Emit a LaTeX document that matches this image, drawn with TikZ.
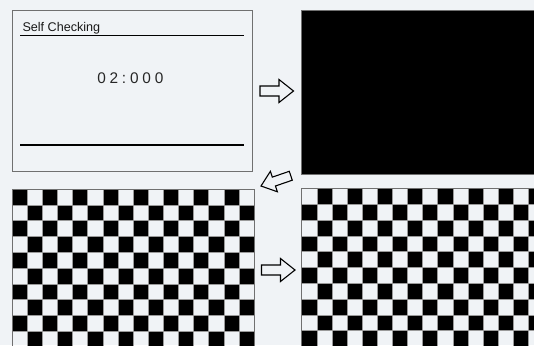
\documentclass[tikz,border=0pt]{standalone}
\usepackage{fontspec}
\setmainfont{Liberation Sans}
\definecolor{bg}{HTML}{F0F3F6}
\definecolor{framegray}{HTML}{707070}
\definecolor{gridgray}{HTML}{9A9A9A}
\tikzset{
  blockarrow/.style={draw=black, fill=bg, line width=1.1pt, line join=miter},
  panel/.style={draw=framegray, line width=0.9pt},
  blk/.pic={\draw[blockarrow] (-33.5,-5) -- (-14.5,-5) -- (-14.5,-11.5) -- (0,0) -- (-14.5,11.5) -- (-14.5,5) -- (-33.5,5) -- cycle;}
}
\begin{document}
\begin{tikzpicture}[x=1pt,y=-1pt]
\useasboundingbox (0,0) rectangle (534,345);
\fill[bg] (0,0) rectangle (534,345);
% top-left panel
\draw[panel, fill=bg] (12,10) rectangle (252,171);
\node[anchor=base west, font=\fontsize{12.6}{14}\selectfont, inner sep=0, text=black!90] (title) at (22.3,31) {Self Checking};
\draw[line width=1.6pt] (20,35.5) -- (244,35.5);
\node[font=\fontsize{15.4}{17}\selectfont, text=black!85, inner sep=0] (timer) at (130.3,77.8) {0\kern3.8pt2\kern3.8pt:\kern3.8pt0\kern3.8pt0\kern3.8pt0};
\draw[line width=1.6pt] (20,145) -- (244,145);
% black panel
\draw[panel, fill=black] (301.7,10.5) rectangle (540,174);
% left checkerboard
\begin{scope}
\clip (12,189) rectangle (254,350);
\foreach \i in {0,...,15} {
  \foreach \j in {0,...,9} {
    \ifodd\numexpr\i+\j\relax\else
      \fill[black] ({12+\i*15.125},{189+\j*15.8}) rectangle +(15.125,15.8);
    \fi
  }
}
\foreach \i in {1,...,15} \draw[gridgray, line width=0.4pt] ({12+\i*15.125},189) -- ({12+\i*15.125},350);
\foreach \j in {1,...,10} \draw[gridgray, line width=0.4pt] (12,{189+\j*15.8}) -- (254,{189+\j*15.8});
\end{scope}
\draw[panel] (12,350) -- (12,189) -- (254,189) -- (254,350);
% right checkerboard
\begin{scope}
\clip (301.7,188.3) rectangle (540,350);
\foreach \i in {0,...,15} {
  \foreach \j in {0,...,9} {
    \ifodd\numexpr\i+\j\relax
      \fill[black] ({301.7+\i*15.1},{188.3+\j*15.8}) rectangle +(15.1,15.8);
    \fi
  }
}
\foreach \i in {1,...,15} \draw[gridgray, line width=0.4pt] ({301.7+\i*15.1},188.3) -- ({301.7+\i*15.1},350);
\foreach \j in {1,...,10} \draw[gridgray, line width=0.4pt] (301.7,{188.3+\j*15.8}) -- (540,{188.3+\j*15.8});
\end{scope}
\draw[panel] (301.7,350) -- (301.7,188.3) -- (540,188.3);
% arrows
\pic at (293.5,91) {blk};
\pic[rotate=199, scale=0.94] at (261,186) {blk};
\pic at (295,270) {blk};
\end{tikzpicture}
\end{document}
